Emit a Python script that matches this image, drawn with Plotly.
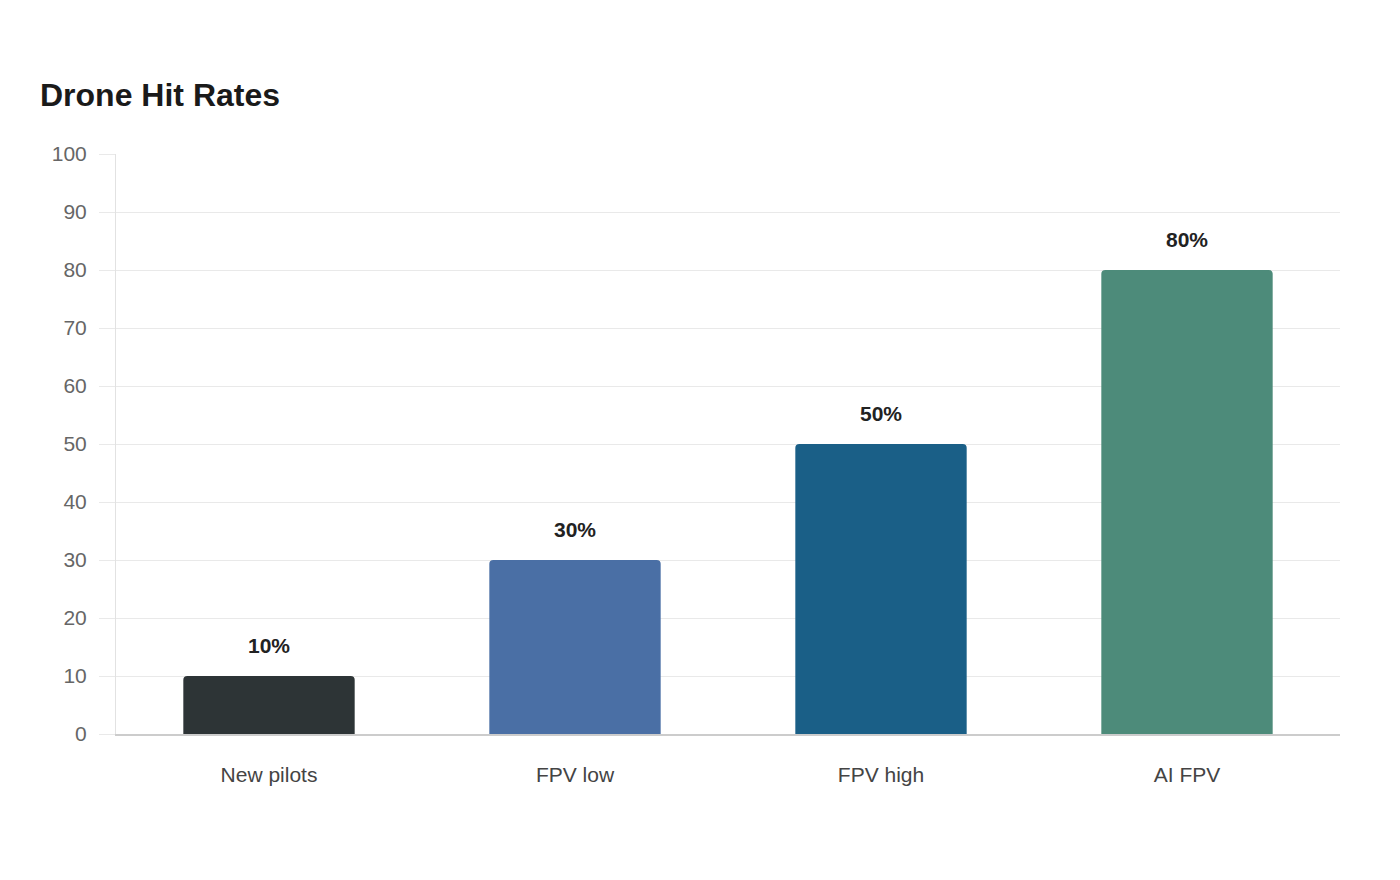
import plotly.graph_objects as go

categories = ["New pilots", "FPV low", "FPV high", "AI FPV"]
hit_rates = [10, 30, 50, 80]
bar_colors = ["#2d3436", "#4a6fa5", "#1a5f87", "#4d8b7a"]
y_ticks = list(range(0, 101, 10))

FONT = "Liberation Sans, Arial, sans-serif"

fig = go.Figure()
fig.add_trace(go.Bar(
    x=categories,
    y=hit_rates,
    marker=dict(color=bar_colors, line=dict(width=0), cornerradius=4),
    hoverinfo="x+y",
))

for c, v in zip(categories, hit_rates):
    fig.add_annotation(
        x=c, y=v, text=f"<b>{v}%</b>", showarrow=False,
        yshift=31, font=dict(family=FONT, size=21, color="#222222"),
    )

fig.update_layout(
    width=1400, height=880,
    margin=dict(l=116, r=60, t=154, b=146),
    paper_bgcolor="white", plot_bgcolor="white",
    title=dict(
        text="<b>Drone Hit Rates</b>", x=40 / 1400, xanchor="left",
        y=1 - 95 / 880, yanchor="middle",
        font=dict(family=FONT, size=32, color="#1a1a1a"),
    ),
    bargap=0.44,
    showlegend=False,
    font=dict(family=FONT),
)
fig.update_xaxes(
    showline=True, linecolor="#cccccc", linewidth=1.5,
    showgrid=False, ticks="", ticklabelstandoff=21,
    tickfont=dict(family=FONT, size=21, color="#444444"),
)
fig.update_yaxes(
    range=[0, 100], tickvals=y_ticks,
    showgrid=True, gridcolor="#e9e9e9", gridwidth=1,
    showline=True, linecolor="#e2e2e2", linewidth=1,
    ticks="outside", ticklen=16, tickcolor="#e9e9e9",
    ticklabelstandoff=8,
    tickfont=dict(family=FONT, size=21, color="#666666"),
    zeroline=False,
)

fig.write_html("out.html")
